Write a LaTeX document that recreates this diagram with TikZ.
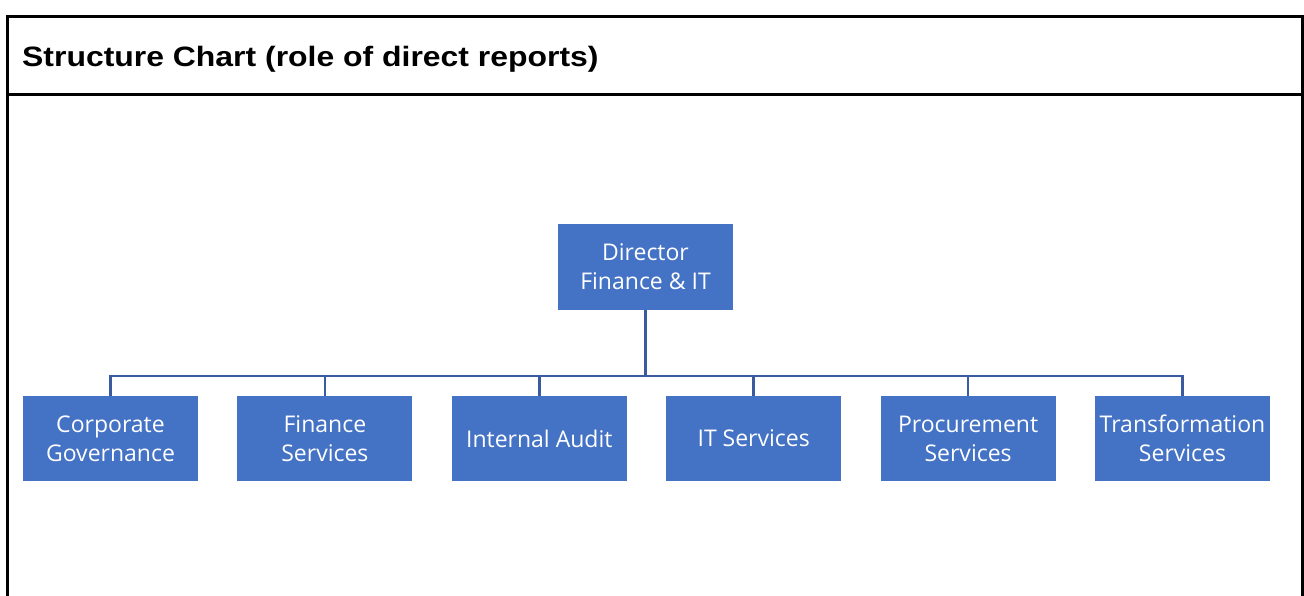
\documentclass[tikz,border=0pt]{standalone}
\usepackage{fontspec}
\setmainfont{Open Sans}
\newfontfamily\headfont{Liberation Sans}
\usepackage{xcolor}
\usetikzlibrary{positioning}

\definecolor{boxblue}{HTML}{4472C4}
\definecolor{lineblue}{HTML}{3A5BA0}

\tikzset{
  unit/.style={draw=none,fill=boxblue,text=white,align=center,
    minimum width=175pt,minimum height=85pt,inner sep=0pt,
    font=\fontsize{23}{29}\selectfont},
  link/.style={draw=lineblue,line width=2.6pt},
  frame/.style={line width=3pt}
}

\begin{document}
\begin{tikzpicture}[x=1pt,y=-1pt]
    \useasboundingbox (0,0) rectangle (1304,595);

    % outer frame and title bar
    \draw[frame] (7,596) -- (7,16) -- (1302,16) -- (1302,596);
    \draw[frame] (7,94) -- (1302,94);
    \node[anchor=base west,inner sep=0pt,font=\headfont\bfseries\fontsize{28}{32}\selectfont]
      (title) at (22,66) {\scalebox{1.14}[1]{Structure Chart (role of direct reports)}};

    % director
    \node[unit,minimum height=86pt] (dir) at (645.5,267) {Director\\Finance \& IT};

    % direct reports
    \node[unit] (cg) at (110.5,438.5) {Corporate\\Governance};
    \node[unit,right=39pt of cg] (fs) {Finance\\Services};
    \node[unit,right=39pt of fs] (ia) {Internal Audit};
    \node[unit,right=39pt of ia] (its) {IT Services};
    \node[unit,right=39pt of its] (ps) {Procurement\\Services};
    \node[unit,right=39pt of ps] (ts) {Transformation\\Services};

    % connectors
    \coordinate (bus) at (645.5,376);
    \draw[link] (dir.south) -- (bus);
    \draw[link] (cg.north) -- (cg.north |- bus) -- (ts.north |- bus) -- (ts.north);
    \draw[link] (fs.north) -- (fs.north |- bus);
    \draw[link] (ia.north) -- (ia.north |- bus);
    \draw[link] (its.north) -- (its.north |- bus);
    \draw[link] (ps.north) -- (ps.north |- bus);
  \end{tikzpicture}
\end{document}
